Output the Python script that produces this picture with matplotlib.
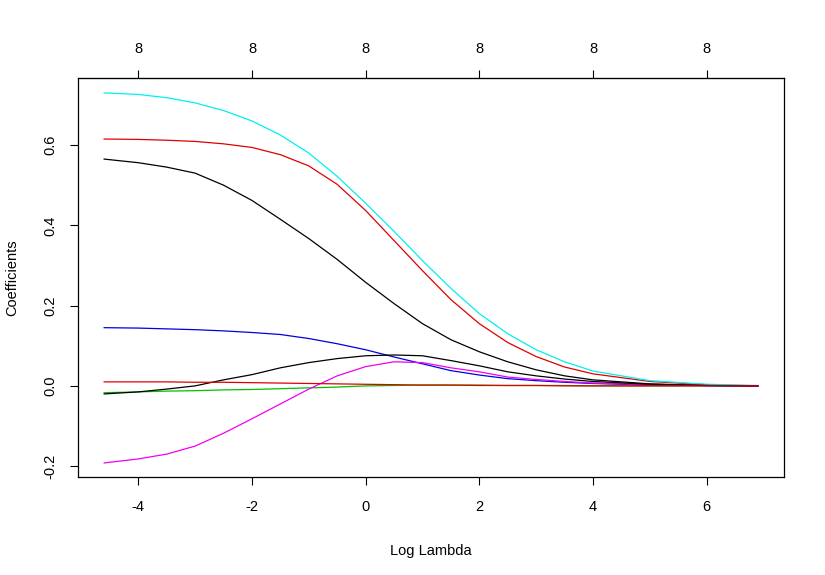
import matplotlib
matplotlib.use("Agg")
import matplotlib.pyplot as plt

plt.rcParams['font.family'] = ['Liberation Sans', 'DejaVu Sans']

# log lambda grid
log_lambda = [-4.6, -4.0, -3.5, -3.0, -2.5, -2.0, -1.5, -1.0, -0.5, 0.0, 0.5,
              1.0, 1.5, 2.0, 2.5, 3.0, 3.5, 4.0, 5.0, 6.0, 6.9]

coef_v1 = [0.565, 0.556, 0.545, 0.530, 0.500, 0.462, 0.415, 0.367, 0.315, 0.258, 0.205,
           0.155, 0.115, 0.085, 0.060, 0.040, 0.025, 0.015, 0.005, 0.001, 0.0]
coef_v2 = [0.615, 0.614, 0.612, 0.609, 0.603, 0.594, 0.576, 0.548, 0.502, 0.437, 0.362,
           0.287, 0.215, 0.155, 0.108, 0.073, 0.047, 0.030, 0.011, 0.003, 0.0]
coef_v3 = [-0.017, -0.015, -0.013, -0.012, -0.010, -0.009, -0.007, -0.005, -0.003, 0.000, 0.001,
           0.002, 0.002, 0.002, 0.001, 0.001, 0.001, 0.0, 0.0, 0.0, 0.0]
coef_v4 = [0.145, 0.144, 0.142, 0.140, 0.137, 0.133, 0.128, 0.118, 0.105, 0.090, 0.072,
           0.055, 0.038, 0.027, 0.018, 0.013, 0.009, 0.006, 0.002, 0.001, 0.0]
coef_v5 = [0.730, 0.726, 0.718, 0.705, 0.686, 0.660, 0.625, 0.580, 0.522, 0.455, 0.385,
           0.312, 0.243, 0.180, 0.130, 0.090, 0.060, 0.037, 0.013, 0.004, 0.001]
coef_v6 = [-0.192, -0.182, -0.170, -0.150, -0.118, -0.082, -0.045, -0.008, 0.025, 0.048, 0.060,
           0.058, 0.045, 0.035, 0.022, 0.016, 0.011, 0.007, 0.003, 0.001, 0.0]
coef_v7 = [-0.020, -0.015, -0.008, 0.000, 0.015, 0.028, 0.045, 0.058, 0.068, 0.075, 0.077,
           0.075, 0.063, 0.050, 0.035, 0.025, 0.017, 0.011, 0.004, 0.001, 0.0]
coef_v8 = [0.010, 0.010, 0.010, 0.009, 0.009, 0.008, 0.007, 0.006, 0.005, 0.004, 0.003,
           0.002, 0.002, 0.001, 0.001, 0.001, 0.0, 0.0, 0.0, 0.0, 0.0]

coefs = [coef_v1, coef_v2, coef_v3, coef_v4, coef_v5, coef_v6, coef_v7, coef_v8]
# matplot default col = 1:6, recycled
colors = ['black', '#E00000', '#00C000', '#0000E0', '#00F0F0', '#F000F0', 'black', '#E00000']

x_ticks = [-4, -2, 0, 2, 4, 6]
y_ticks = [-0.2, 0.0, 0.2, 0.4, 0.6]
df_labels = ['8', '8', '8', '8', '8', '8']

fig = plt.figure(figsize=(8.25, 5.75), dpi=100)
ax = fig.add_axes([78 / 825, 98 / 575, 706 / 825, 399 / 575])

for c, col in zip(coefs, colors):
    ax.plot(log_lambda, c, color=col, lw=0.9)

ax.set_xlim(-5.06, 7.36)
ax.set_ylim(-0.227, 0.767)

fs = 10.5
ax.set_xticks(x_ticks)
ax.set_xticklabels([str(t) for t in x_ticks])
ax.set_yticks(y_ticks)
ax.set_yticklabels(['%.1f' % t for t in y_ticks], rotation=90, va='center')
ax.tick_params(direction='out', length=5.5, width=0.8, labelsize=fs, pad=11)
ax.tick_params(axis='y', pad=9)

for s in ax.spines.values():
    s.set_linewidth(0.9)

top = ax.secondary_xaxis('top')
top.set_xticks(x_ticks)
top.set_xticklabels(df_labels)
top.tick_params(direction='out', length=5.5, width=0.8, labelsize=fs, pad=10)

ax.set_xlabel('Log Lambda', fontsize=fs, labelpad=22)
ax.set_ylabel('Coefficients', fontsize=fs, labelpad=18)

plt.savefig('out.png', dpi=100)
